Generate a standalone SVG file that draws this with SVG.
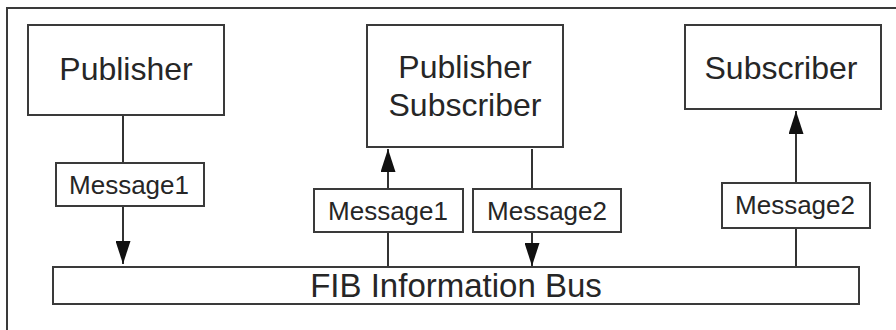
<svg xmlns="http://www.w3.org/2000/svg" width="896" height="330" viewBox="0 0 896 330">
  <style>
    .box { fill: #ffffff; stroke: #3a3a3a; stroke-width: 2; }
    .big { font-family: "Liberation Sans", Arial, sans-serif; font-size: 32px; fill: #262626; text-anchor: middle; }
    .bus { font-family: "Liberation Sans", Arial, sans-serif; font-size: 33px; fill: #262626; text-anchor: middle; }
    .msg { font-family: "Liberation Sans", Arial, sans-serif; font-size: 26px; fill: #262626; text-anchor: middle; }
    .link { stroke: #333333; stroke-width: 2; fill: none; }
  </style>
  <defs>
    <marker id="head" viewBox="0 0 23 15" refX="23" refY="7.5" markerWidth="23" markerHeight="15" markerUnits="userSpaceOnUse" orient="auto">
      <path d="M0,0 L23,7.5 L0,15 Z" fill="#111111"/>
    </marker>
  </defs>

  <rect width="896" height="330" fill="#ffffff"/>
  <!-- outer frame -->
  <rect x="7" y="8" width="900" height="340" fill="none" stroke="#3a3a3a" stroke-width="2"/>

  <g id="connectors">
    <!-- Publisher -> bus -->
    <line class="link" x1="123" y1="116" x2="123" y2="165"/>
    <line class="link" x1="123" y1="206" x2="123" y2="264" marker-end="url(#head)"/>
    <!-- bus -> Publisher Subscriber -->
    <line class="link" x1="388" y1="267" x2="388" y2="232"/>
    <line class="link" x1="388" y1="189" x2="388" y2="149" marker-end="url(#head)"/>
    <!-- Publisher Subscriber -> bus -->
    <line class="link" x1="532" y1="149" x2="532" y2="189"/>
    <line class="link" x1="532" y1="232" x2="532" y2="266" marker-end="url(#head)"/>
    <!-- bus -> Subscriber -->
    <line class="link" x1="796" y1="267" x2="796" y2="228"/>
    <line class="link" x1="796" y1="183" x2="796" y2="111" marker-end="url(#head)"/>
  </g>

  <g id="publisher">
    <rect class="box" x="28" y="25" width="196" height="90"/>
    <text class="big" x="126" y="80">Publisher</text>
  </g>

  <g id="publisher-subscriber">
    <rect class="box" x="367" y="25" width="196" height="122"/>
    <text class="big" x="465" y="78">Publisher</text>
    <text class="big" x="465" y="116">Subscriber</text>
  </g>

  <g id="subscriber">
    <rect class="box" x="685" y="25" width="196" height="84"/>
    <text class="big" x="781" y="79">Subscriber</text>
  </g>

  <g id="msg1-left">
    <rect class="box" x="56" y="163" width="148" height="43"/>
    <text class="msg" x="129" y="194">Message1</text>
  </g>

  <g id="msg1-mid">
    <rect class="box" x="314" y="189" width="149" height="43"/>
    <text class="msg" x="388" y="220">Message1</text>
  </g>

  <g id="msg2-mid">
    <rect class="box" x="473" y="189" width="148" height="43"/>
    <text class="msg" x="547" y="220">Message2</text>
  </g>

  <g id="msg2-right">
    <rect class="box" x="722" y="183" width="148" height="45"/>
    <text class="msg" x="795" y="214">Message2</text>
  </g>

  <g id="bus">
    <rect class="box" x="53" y="267" width="806" height="37"/>
    <text class="bus" x="456" y="297">FIB Information Bus</text>
  </g>
</svg>
